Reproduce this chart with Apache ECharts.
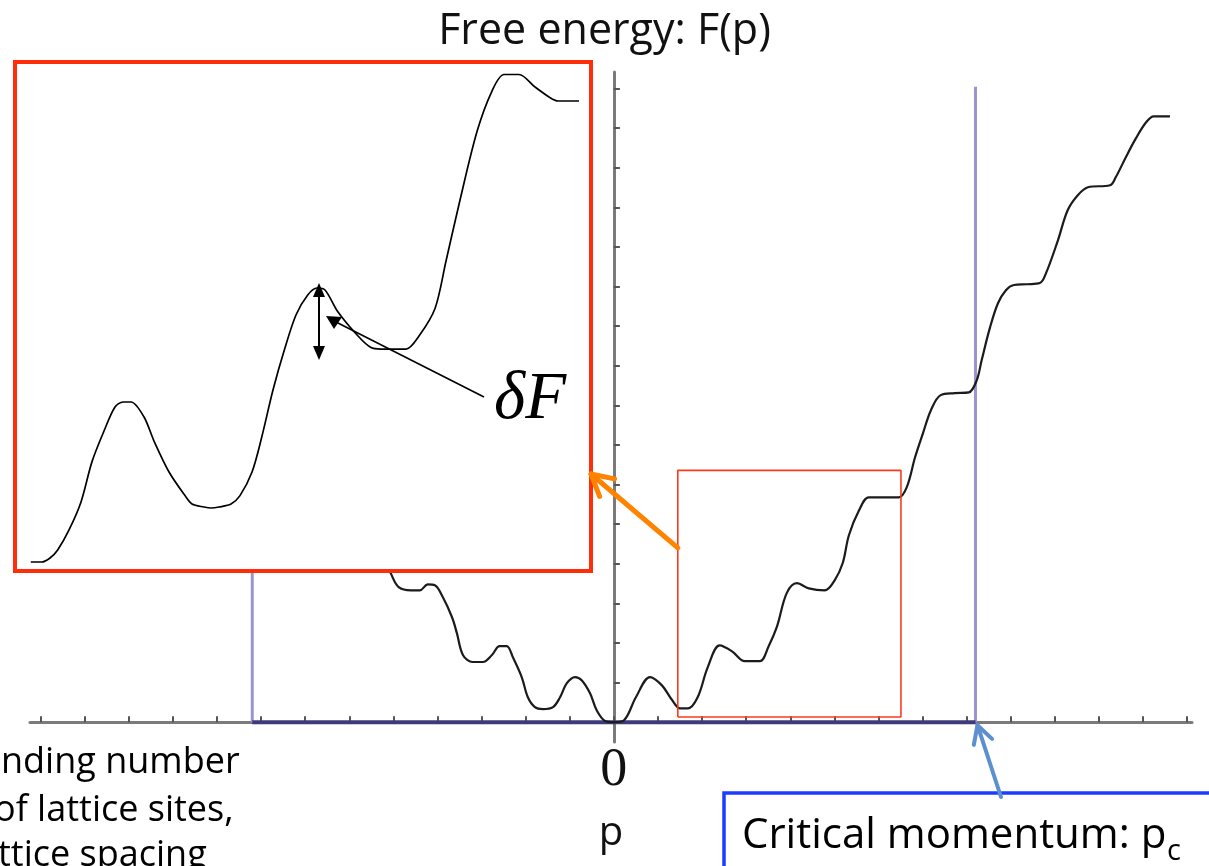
<!DOCTYPE html>
<html>
<head>
<meta charset="utf-8">
<script src="https://cdn.jsdelivr.net/npm/echarts@6/dist/echarts.min.js"></script>
<style>
  html, body { margin: 0; padding: 0; background: #fff; }
  #chart { width: 1209px; height: 866px; }
</style>
</head>
<body>
<div id="chart"></div>
<script>
// Free energy F(p) versus momentum p (tick units on both axes)
const momentum = [
  -5.17, -5.06, -4.88, -4.60, -4.40, -4.22, -4.06, -3.88, -3.67, -3.56,
  -3.42, -3.20, -2.97, -2.77, -2.59, -2.43, -2.29, -2.09, -1.95, -1.79,
  -1.61, -1.38, -1.22, -1.07, -0.88, -0.73, -0.54, -0.39, -0.20, 0,
  0.23, 0.50, 0.82, 1.09, 1.32, 1.50, 1.68, 1.90, 2.13, 2.40,
  2.68, 2.97, 3.31, 3.51, 3.70, 3.92, 4.15, 4.42, 4.78, 5.01,
  5.19, 5.33, 5.56, 5.78, 6.12, 6.46, 6.64, 6.83, 7.01, 7.19,
  7.41, 7.73, 8.05, 8.23, 8.34, 8.53, 8.71, 8.89, 9.07, 9.37,
  9.66, 9.80, 10.07, 10.29, 10.52, 10.75, 11.25, 11.38, 11.61, 11.84,
  12.07, 12.24, 12.61
];
const freeEnergy = [
  4.02, 3.76, 3.41, 3.33, 3.33, 3.48, 3.46, 3.16, 2.65, 2.25,
  1.69, 1.52, 1.52, 1.69, 1.92, 1.92, 1.64, 1.14, 0.63, 0.38,
  0.33, 0.38, 0.63, 0.98, 1.14, 1.06, 0.73, 0.30, 0.03, 0,
  0.05, 0.63, 1.14, 0.93, 0.56, 0.35, 0.35, 0.63, 1.39, 1.94,
  1.79, 1.54, 1.54, 1.92, 2.42, 3.26, 3.51, 3.38, 3.33, 3.59,
  4.02, 4.72, 5.35, 5.68, 5.68, 5.68, 5.93, 6.69, 7.30, 7.88,
  8.26, 8.31, 8.33, 8.64, 9.14, 9.97, 10.58, 10.91, 11.04, 11.06,
  11.09, 11.34, 12.17, 12.93, 13.31, 13.51, 13.56, 13.76, 14.27, 14.75,
  15.15, 15.30, 15.30
];

// Critical momentum and the height of the bounding lines
const criticalP = 8.2;
const boundTop = 16.05;

// Window of the curve that is magnified in the inset
const windowP = [1.45, 6.51];
const windowF = [0.13, 6.36];

// Magnified barrier profile (inset, normalised 0-100 units)
const insetX = [
  2.74, 4.69, 6.08, 7.41, 9.38, 11.46, 13.37, 15.45, 17.36, 18.75,
  20.14, 22.40, 24.13, 26.74, 29.51, 30.73, 32.81, 34.03, 35.42, 37.50,
  39.06, 41.15, 42.80, 44.79, 46.81, 48.78, 50.82, 52.43, 53.82, 56.08,
  59.55, 61.81, 63.54, 67.88, 70.14, 72.92, 74.83, 77.26, 80.21, 82.81,
  84.90, 87.50, 90.28, 92.88, 94.27, 97.92
];
const insetY = [
  1.77, 1.77, 2.55, 4.13, 8.06, 13.56, 21.49, 27.50, 32.22, 33.20,
  33.20, 30.26, 25.54, 19.45, 14.81, 13.16, 12.57, 12.38, 12.57, 13.16,
  14.81, 19.45, 26.13, 35.56, 43.61, 50.29, 54.22, 55.60, 55.21, 50.88,
  46.17, 43.89, 43.61, 43.61, 46.17, 51.57, 60.90, 72.89, 86.33, 94.30,
  97.54, 97.54, 95.09, 93.00, 92.34, 92.34
];

// Axis ticks
const xTicks = [-13, -12, -11, -10, -9, -8, -7, -6, -5, -4, -3, -2, -1, 0,
                1, 2, 3, 4, 5, 6, 7, 8, 9, 10, 11, 12, 13];
const yTicks = [1, 2, 3, 4, 5, 6, 7, 8, 9, 10, 11, 12, 13, 14, 15, 16];
const xLabels = [0];

const pairs = (xs, ys) => xs.map((x, i) => [x, ys[i]]);

const axisGray = '#7b7b7b';
const sans = 'Open Sans';

const chart = echarts.init(document.getElementById('chart'), null, { renderer: 'canvas' });

const option = {
  backgroundColor: '#ffffff',
  animation: false,
  title: {
    text: 'Free energy: F(p)',
    left: 'center',
    top: 5,
    textStyle: { fontFamily: sans, fontSize: 43, fontWeight: 'normal', color: '#111' }
  },
  grid: [
    { left: 30, width: 1162, top: 72, height: 670, outerBoundsMode: 'none', containLabel: false },
    { left: 15, top: 62, width: 576, height: 509, outerBoundsMode: 'none', containLabel: false,
      show: true, backgroundColor: '#ffffff', borderColor: '#ff2d0a', borderWidth: 4, z: 10 }
  ],
  xAxis: [
    {
      type: 'value', gridIndex: 0, min: -13.24, max: 13.11,
      axisLine: { show: true, onZero: true, lineStyle: { color: axisGray, width: 3 } },
      axisTick: { show: true, inside: true, length: 6, customValues: xTicks,
                  lineStyle: { color: '#555', width: 2 } },
      axisLabel: { show: true, customValues: xLabels, formatter: v => String(v),
                   fontFamily: 'Liberation Serif', fontSize: 54, color: '#111', margin: 2 },
      splitLine: { show: false },
      name: 'p', nameLocation: 'middle', nameGap: 72,
      nameTextStyle: { fontFamily: sans, fontSize: 40, color: '#111' }
    },
    { type: 'value', gridIndex: 1, min: 0, max: 100, show: false }
  ],
  yAxis: [
    {
      type: 'value', gridIndex: 0, min: -0.5, max: 16.42,
      axisLine: { show: true, onZero: true, lineStyle: { color: axisGray, width: 3 } },
      axisTick: { show: true, inside: true, length: 6, customValues: yTicks,
                  lineStyle: { color: '#555', width: 2 } },
      axisLabel: { show: false },
      splitLine: { show: false }
    },
    { type: 'value', gridIndex: 1, min: 0, max: 100, show: false }
  ],
  series: [
    {
      name: 'bound-left', type: 'line', xAxisIndex: 0, yAxisIndex: 0,
      data: [[-criticalP, boundTop], [-criticalP, 0]],
      symbol: 'none', lineStyle: { color: '#9a94cf', width: 3 }, z: 3, silent: true
    },
    {
      name: 'bound-right', type: 'line', xAxisIndex: 0, yAxisIndex: 0,
      data: [[criticalP, 0], [criticalP, boundTop]],
      symbol: 'none', lineStyle: { color: '#9a94cf', width: 3 }, z: 3, silent: true
    },
    {
      name: 'bound-base', type: 'line', xAxisIndex: 0, yAxisIndex: 0,
      data: [[-criticalP, 0], [criticalP, 0]],
      symbol: 'none', lineStyle: { color: '#3e3a7c', width: 4 }, z: 3, silent: true
    },
    {
      name: 'F(p)', type: 'line', xAxisIndex: 0, yAxisIndex: 0,
      data: pairs(momentum, freeEnergy),
      smooth: 0.35, symbol: 'none',
      lineStyle: { color: '#1b1b1b', width: 2.2 }, z: 4, silent: true
    },
    {
      name: 'window', type: 'line', xAxisIndex: 0, yAxisIndex: 0,
      data: [[windowP[0], windowF[0]], [windowP[1], windowF[0]], [windowP[1], windowF[1]],
             [windowP[0], windowF[1]], [windowP[0], windowF[0]]],
      symbol: 'none', lineStyle: { color: '#ff3a1c', width: 1.6 }, z: 5, silent: true
    },
    {
      name: 'inset', type: 'line', xAxisIndex: 1, yAxisIndex: 1,
      data: pairs(insetX, insetY),
      smooth: 0.3, symbol: 'none',
      lineStyle: { color: '#000', width: 1.7 }, z: 12, silent: true
    }
  ]
};

chart.setOption(option);

// Straight arrow with an open V head
function arrow(x1, y1, x2, y2, color, width, head, z) {
  const a = Math.atan2(y2 - y1, x2 - x1);
  const s = 0.5;
  const h1 = [x2 - head * Math.cos(a - s), y2 - head * Math.sin(a - s)];
  const h2 = [x2 - head * Math.cos(a + s), y2 - head * Math.sin(a + s)];
  return [
    { type: 'polyline', z, silent: true, shape: { points: [[x1, y1], [x2, y2]] },
      style: { stroke: color, lineWidth: width, lineCap: 'round' } },
    { type: 'polyline', z, silent: true, shape: { points: [h1, [x2, y2], h2] },
      style: { stroke: color, lineWidth: width, lineCap: 'round', lineJoin: 'round', fill: null } }
  ];
}

const pcPix = chart.convertToPixel({ gridIndex: 0 }, [criticalP, 0]);
const winPix = chart.convertToPixel({ gridIndex: 0 }, [windowP[0], 4.4]);

const graphics = [];
// inset pointer from the magnified window
graphics.push(...arrow(winPix[0], winPix[1], 591, 474, '#ff8200', 5, 24, 60));
// pointer to the critical momentum
graphics.push(...arrow(1001, 797, pcPix[0] + 2, pcPix[1] + 3, '#5b8fd0', 4, 20, 60));

// barrier height marker inside the inset
graphics.push(
  { type: 'line', z: 30, silent: true, shape: { x1: 319, y1: 292, x2: 319, y2: 350 },
    style: { stroke: '#000', lineWidth: 2 } },
  { type: 'polygon', z: 30, silent: true, shape: { points: [[319, 283], [313, 297], [325, 297]] },
    style: { fill: '#000' } },
  { type: 'polygon', z: 30, silent: true, shape: { points: [[319, 360], [313, 346], [325, 346]] },
    style: { fill: '#000' } },
  { type: 'line', z: 30, silent: true, shape: { x1: 336, y1: 322, x2: 484, y2: 397 },
    style: { stroke: '#000', lineWidth: 1.6 } },
  { type: 'polygon', z: 30, silent: true, shape: { points: [[326, 316], [342, 317], [334, 329]] },
    style: { fill: '#000' } },
  { type: 'text', z: 30, silent: true,
    style: { text: 'δF', x: 494, y: 400, font: 'italic 67px "Liberation Serif"',
             fill: '#000', textAlign: 'left', textVerticalAlign: 'middle' } }
);

// critical momentum callout
graphics.push(
  { type: 'rect', z: 40, silent: true, shape: { x: 724, y: 793, width: 600, height: 200 },
    style: { fill: '#fff', stroke: '#1c3dff', lineWidth: 3.5 } },
  { type: 'text', z: 41, silent: true,
    style: { text: 'Critical momentum: p', x: 742, y: 836, font: '42px "Open Sans"',
             fill: '#000', textAlign: 'left', textVerticalAlign: 'middle' } },
  { type: 'text', z: 41, silent: true,
    style: { text: 'c', x: 1167, y: 852, font: '29px "Open Sans"',
             fill: '#000', textAlign: 'left', textVerticalAlign: 'middle' } }
);

// notes at the lower left
const notes = [['nding number', 1, 763], ['of lattice sites,', -6, 811], ['ttice spacing', -2, 856]];
notes.forEach(([t, x, y]) => graphics.push({
  type: 'text', z: 41, silent: true,
  style: { text: t, x, y, font: '36px "Open Sans"', fill: '#000',
           textAlign: 'left', textVerticalAlign: 'middle' }
}));

chart.setOption({ graphic: graphics });
</script>
</body>
</html>
